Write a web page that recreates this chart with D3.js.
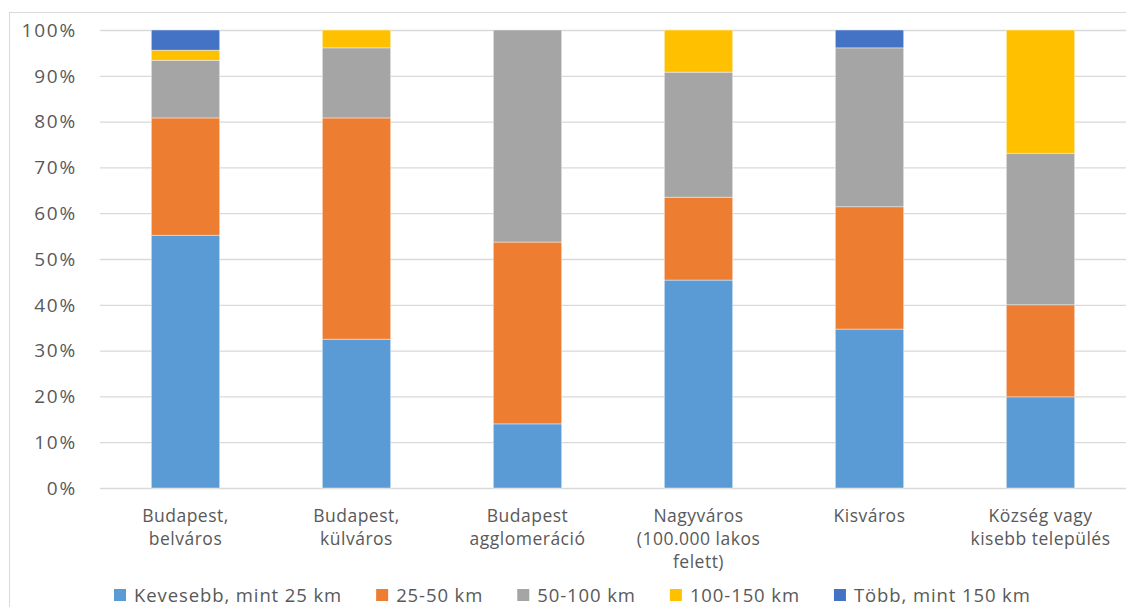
<!DOCTYPE html>
<meta charset="UTF-8">
<style>
    body { margin: 0; background: #fff; }
    text { font-family: "Open Sans", sans-serif; fill: #595959; }
</style>
<svg width="1126" height="607"></svg>
<script src="https://d3js.org/d3.v7.min.js"></script>
<script>

// categories (lines of the axis label)
var categories = [
    ["Budapest,", "belváros"],
    ["Budapest,", "külváros"],
    ["Budapest", "agglomeráció"],
    ["Nagyváros", "(100.000 lakos", "felett)"],
    ["Kisváros"],
    ["Község vagy", "kisebb település"]
];

var seriesNames = ["Kevesebb, mint 25 km", "25-50 km", "50-100 km", "100-150 km", "Több, mint 150 km"];

// percentage shares per category, one array per series
var under25   = [55.2, 32.5, 14.0, 45.4, 34.7, 19.9];
var km25to50  = [25.6, 48.3, 39.7, 18.1, 26.7, 20.1];
var km50to100 = [12.6, 15.3, 46.3, 27.3, 34.7, 33.1];
var km100to150 = [2.2, 3.9, 0, 9.2, 0, 26.9];
var over150   = [4.4, 0, 0, 0, 3.9, 0];

var yTicks = [0, 10, 20, 30, 40, 50, 60, 70, 80, 90, 100];

var colors = ["#5b9bd5", "#ed7d31", "#a5a5a5", "#ffc000", "#4472c4"];

var svg = d3.select("svg"),
    margin = {top: 30, right: 0, bottom: 119, left: 100},
    width = +svg.attr("width") - margin.left - margin.right,
    height = +svg.attr("height") - margin.top - margin.bottom;

// chart frame
svg.append("rect")
    .attr("x", 9.5).attr("y", 12.5)
    .attr("width", 1300).attr("height", 800)
    .attr("fill", "none")
    .attr("stroke", "#d9d9d9");

var g = svg.append("g").attr("transform", "translate(" + margin.left + "," + margin.top + ")");

var data = categories.map(function(c, i) {
    return {i: i, s0: under25[i], s1: km25to50[i], s2: km50to100[i], s3: km100to150[i], s4: over150[i]};
});

var keys = ["s0", "s1", "s2", "s3", "s4"];
var stacked = d3.stack().keys(keys)(data);

var x = d3.scaleBand().domain(d3.range(categories.length)).range([0, width]).paddingInner(0.6).paddingOuter(0.3);
var y = d3.scaleLinear().domain([0, 100]).range([height, 0]);

// gridlines
g.append("g")
    .selectAll("line")
    .data(yTicks)
    .enter().append("line")
    .attr("x1", 0).attr("x2", width)
    .attr("y1", function(d) { return y(d) + 0.5; })
    .attr("y2", function(d) { return y(d) + 0.5; })
    .attr("stroke", "#d9d9d9")
    .attr("stroke-width", 1.3);

// y axis labels
g.append("g")
    .selectAll("text")
    .data(yTicks)
    .enter().append("text")
    .attr("x", -23)
    .attr("y", function(d) { return y(d); })
    .attr("dy", "0.36em")
    .attr("text-anchor", "end")
    .style("font-size", "19px")
    .style("letter-spacing", "1.8px")
    .text(function(d) { return d + "%"; });

// bars
g.append("g")
    .selectAll("g")
    .data(stacked)
    .enter().append("g")
    .attr("fill", function(d, i) { return colors[i]; })
    .selectAll("rect")
    .data(function(d) { return d; })
    .enter().append("rect")
    .attr("x", function(d) { return x(d.data.i); })
    .attr("y", function(d) { return y(d[1]); })
    .attr("width", x.bandwidth())
    .attr("height", function(d) { return y(d[0]) - y(d[1]); })
    .attr("stroke", "#ffffff")
    .attr("stroke-opacity", function(d) { return d[1] > d[0] ? 0.6 : 0; })
    .attr("stroke-width", 0.7);

// category labels
var cat = g.append("g")
    .selectAll("text")
    .data(categories)
    .enter().append("text")
    .attr("text-anchor", "middle")
    .attr("x", function(d, i) { return x(i) + x.bandwidth() / 2; })
    .attr("y", height + 34)
    .style("font-size", "17.5px")
    .style("letter-spacing", "0.5px");

cat.selectAll("tspan")
    .data(function(d) { return d; })
    .enter().append("tspan")
    .attr("x", function() { return d3.select(this.parentNode).attr("x"); })
    .attr("dy", function(d, j) { return j === 0 ? 0 : 23; })
    .text(function(d) { return d; });

// legend
var legend = svg.append("g").attr("transform", "translate(114,595)");
var lx = 0;
seriesNames.forEach(function(name, i) {
    var item = legend.append("g").attr("transform", "translate(" + lx + ",0)");
    item.append("rect")
        .attr("x", 0).attr("y", -6)
        .attr("width", 12).attr("height", 12)
        .attr("fill", colors[i]);
    var t = item.append("text")
        .attr("x", 20)
        .attr("dy", "0.36em")
        .style("font-size", "18.5px")
        .style("letter-spacing", "0.9px")
        .text(name);
    lx += 20 + t.node().getComputedTextLength() + 34;
});

</script>
